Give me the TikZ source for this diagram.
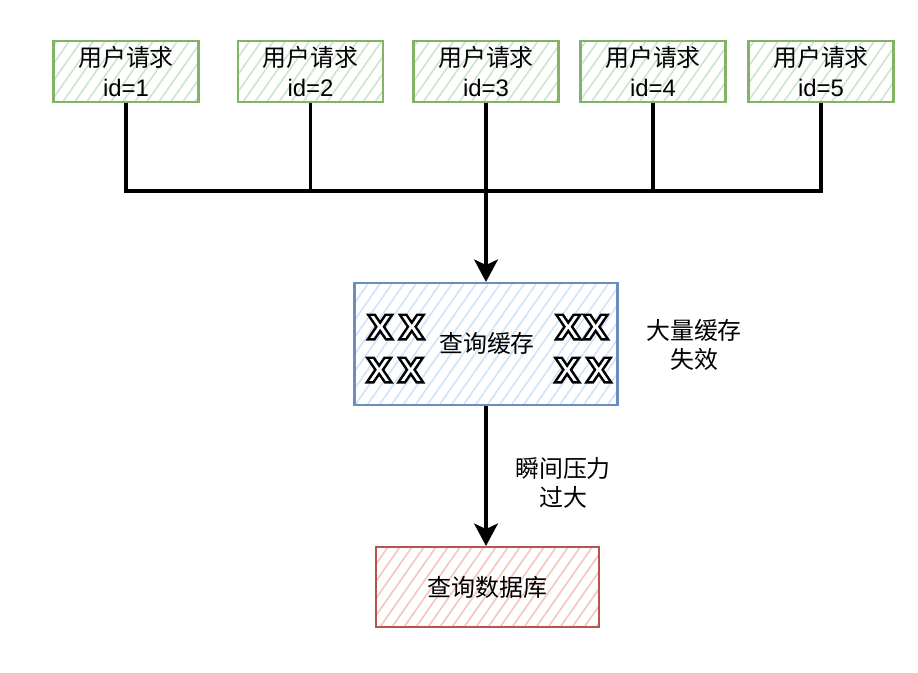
\documentclass[tikz,border=0pt]{standalone}
\usepackage{fontspec}
\setmainfont{Liberation Sans}
\newfontfamily\cjk{Noto Sans CJK SC}
\newfontfamily\markfont{DejaVu Sans Bold}
\usetikzlibrary{arrows.meta,patterns.meta,positioning}
\definecolor{reqdraw}{HTML}{82B366}
\definecolor{reqfill}{HTML}{CFE5CD}
\definecolor{cachedraw}{HTML}{6C8EBF}
\definecolor{cachefill}{HTML}{D2E3FB}
\definecolor{dbdraw}{HTML}{B85450}
\definecolor{dbfill}{HTML}{F6C6C4}
% hollow letters: white fill, black outline
\newcommand{\hollow}[1]{{\color{white}\special{pdf:literal direct 2 Tr 1.7 w 0 G}#1\special{pdf:literal direct 0 Tr}}}

\begin{document}
\begin{tikzpicture}
	[
	x=0.025cm, y=-0.025cm,
	> = {Stealth[length=16pt,width=17pt,inset=4pt]},
	wire/.style = {line width=2.2pt},
	hatch/.style = {pattern={Lines[angle=55,distance=7pt,line width=1.2pt]}},
	ubox/.style = {draw=reqdraw, line width=1.5pt, hatch, pattern color=reqfill,
		minimum width=3.625cm, minimum height=1.525cm, align=center,
		font=\cjk\fontsize{17}{22}\selectfont},
	cachebox/.style = {draw=cachedraw, line width=1.5pt, hatch, pattern color=cachefill,
		minimum width=6.575cm, minimum height=3.05cm},
	dbbox/.style = {draw=dbdraw, line width=1.5pt, hatch, pattern color=dbfill,
		minimum width=5.575cm, minimum height=2cm, font=\cjk\fontsize{17}{22}\selectfont},
	note/.style = {align=center, font=\cjk\fontsize{17}{21}\selectfont},
	xmark/.style = {inner sep=0pt, font=\markfont\fontsize{24}{24}\selectfont}
	]
	\useasboundingbox (0,0) rectangle (918,672);

	\node[ubox] (u1) at (126,71.5) {用户请求\\\rmfamily id=1};
	\node[ubox] (u2) at (310.5,71.5) {用户请求\\\rmfamily id=2};
	\node[ubox] (u3) at (486,71.5) {用户请求\\\rmfamily id=3};
	\node[ubox] (u4) at (653,71.5) {用户请求\\\rmfamily id=4};
	\node[ubox] (u5) at (821,71.5) {用户请求\\\rmfamily id=5};

	\node[cachebox] (cache) at (486,344) {};
	\node[font=\cjk\fontsize{17}{22}\selectfont] (cachetext) at (487,343) {查询缓存};
	\node[xmark] (m1) at (396,327) {\hollow{X\hspace{4pt}X}};
	\node[xmark] (m2) at (395,370) {\hollow{X\hspace{4pt}X}};
	\node[xmark] (m3) at (582,327) {\hollow{X\hspace{1pt}X}};
	\node[xmark] (m4) at (583,370) {\hollow{X\hspace{4pt}X}};
	\node[note] (fail) at (694,345) {大量缓存\\失效};

	\node[dbbox] (db) at (487.5,587) {查询数据库};
	\node[note] (load) at (563,483) {瞬间压力\\过大};

	% request bus
	\coordinate (bus) at (486,191);
	\draw[wire] (u1.south) |- (bus) -| (u5.south);
	\draw[wire] (u2.south) -- (u2.south |- bus);
	\draw[wire] (u4.south) -- (u4.south |- bus);
	\draw[wire,->] (u3.south) -- (cache.north);
	\draw[wire,->] (cache.south) -- (cache.south |- db.north);
\end{tikzpicture}
\end{document}
